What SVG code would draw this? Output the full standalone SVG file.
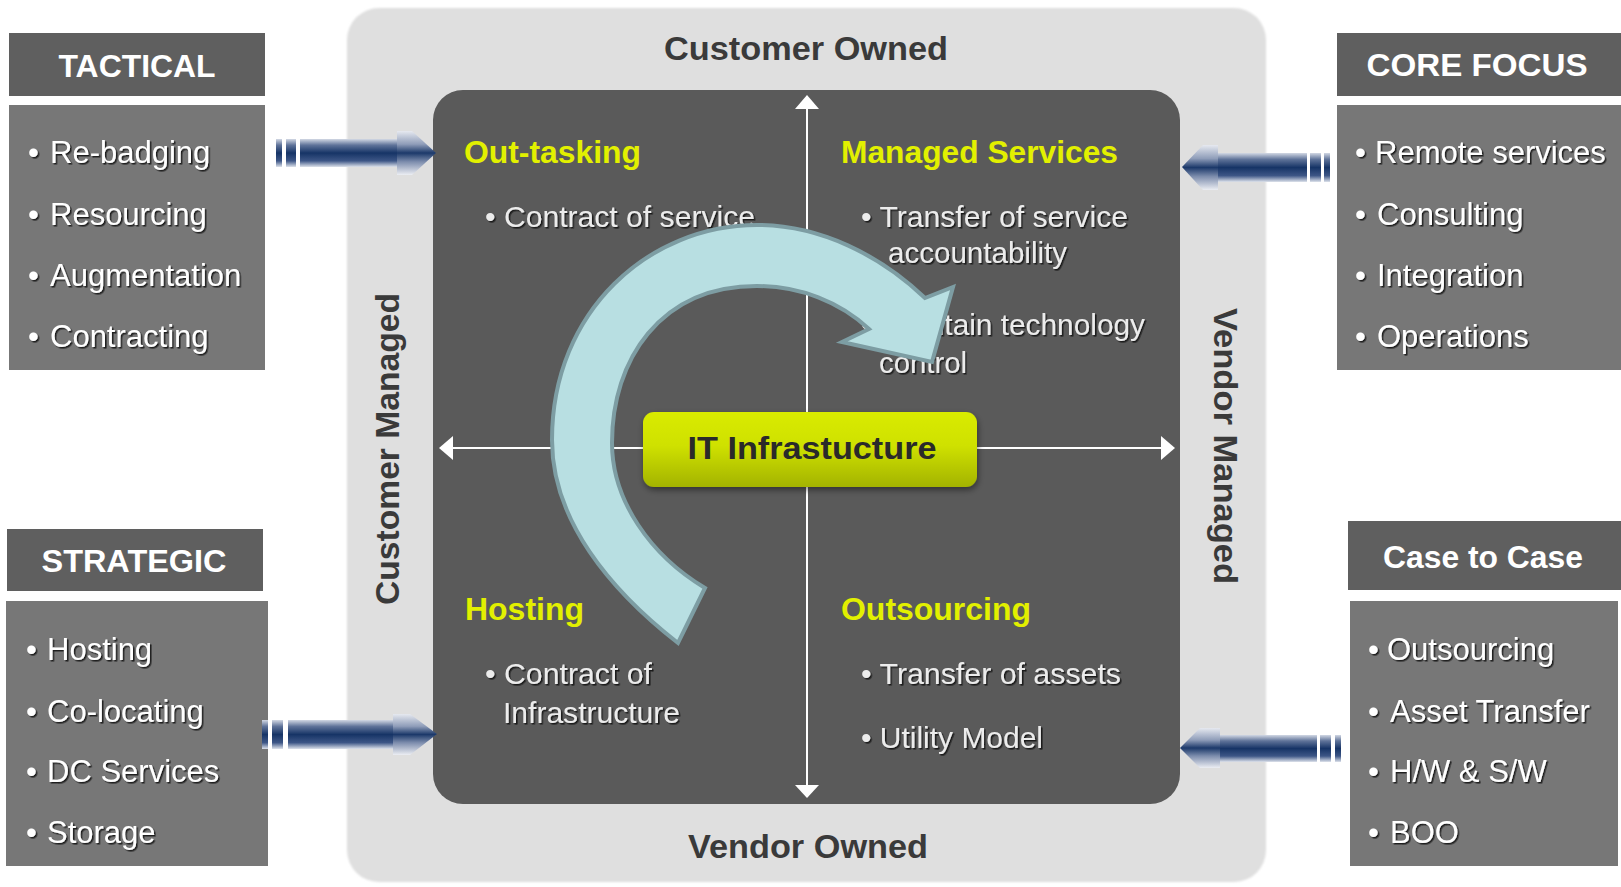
<svg xmlns="http://www.w3.org/2000/svg" width="1621" height="887" viewBox="0 0 1621 887">
<defs>
<linearGradient id="navy" x1="0" y1="0" x2="0" y2="1">
<stop offset="0" stop-color="#d2d8e4"/>
<stop offset="0.22" stop-color="#5f7399"/>
<stop offset="0.5" stop-color="#163466"/>
<stop offset="0.78" stop-color="#3d5686"/>
<stop offset="1" stop-color="#dde2eb"/>
</linearGradient>
<linearGradient id="navyHead" x1="0" y1="0" x2="0" y2="1">
<stop offset="0" stop-color="#e6e9f0"/>
<stop offset="0.3" stop-color="#8f9db9"/>
<stop offset="0.5" stop-color="#1c396a"/>
<stop offset="0.7" stop-color="#7d8dad"/>
<stop offset="1" stop-color="#eceef3"/>
</linearGradient>
<linearGradient id="itGrad" x1="0" y1="0" x2="0" y2="1">
<stop offset="0" stop-color="#d9eb00"/>
<stop offset="0.45" stop-color="#cfe100"/>
<stop offset="1" stop-color="#a3b300"/>
</linearGradient>
<filter id="ts" x="-5%" y="-30%" width="110%" height="160%">
<feDropShadow dx="1.5" dy="1.5" stdDeviation="0.7" flood-color="#111" flood-opacity="0.85"/>
</filter>
<filter id="bs" x="-10%" y="-20%" width="120%" height="150%">
<feDropShadow dx="1" dy="3" stdDeviation="3" flood-color="#000" flood-opacity="0.45"/>
</filter>
<filter id="soft" x="-2%" y="-2%" width="104%" height="104%">
<feGaussianBlur stdDeviation="1.2"/>
</filter>
<style>
.hdr{fill:#5f5f5f}
.bdy{fill:#777777}
.ht{font-family:"Liberation Sans",Arial,sans-serif;font-weight:bold;font-size:32px;fill:#ffffff;text-anchor:middle}
.bt{font-family:"Liberation Sans",Arial,sans-serif;font-size:31px;fill:#ffffff;filter:url(#ts)}
.ql{font-family:"Liberation Sans",Arial,sans-serif;font-weight:bold;font-size:32px;fill:#e2f000}
.qt{font-family:"Liberation Sans",Arial,sans-serif;font-size:30px;fill:#ececec;filter:url(#ts)}
.ft{font-family:"Liberation Sans",Arial,sans-serif;font-weight:bold;font-size:34px;fill:#3a3a3a;text-anchor:middle}
.axis{stroke:#ffffff;stroke-width:2;fill:none}
.ah{fill:#ffffff}
.nv{fill:url(#navy)}
.nh{fill:url(#navyHead)}
</style>
</defs>

<g id="frame">
<rect x="347" y="8" width="919" height="874" rx="32" fill="#dfdfdf" filter="url(#soft)"/>
<text class="ft" x="806" y="60" textLength="284" lengthAdjust="spacingAndGlyphs">Customer Owned</text>
<text class="ft" x="808" y="858" textLength="240" lengthAdjust="spacingAndGlyphs">Vendor Owned</text>
<text class="ft" transform="translate(399,449) rotate(-90)" textLength="312" lengthAdjust="spacingAndGlyphs">Customer Managed</text>
<text class="ft" transform="translate(1214,446) rotate(90)" textLength="276" lengthAdjust="spacingAndGlyphs">Vendor Managed</text>
</g>

<g id="quadrant-panel">
<rect x="433" y="90" width="747" height="714" rx="30" fill="#5a5a5a"/>
</g>

<g id="connectors">
<line class="axis" x1="807" y1="106" x2="807" y2="787"/>
<polygon class="ah" points="807,95 795,109 819,109"/>
<polygon class="ah" points="807,798 795,785 819,785"/>
<line class="axis" x1="450" y1="448" x2="1164" y2="448"/>
<polygon class="ah" points="439,448 453,436 453,460"/>
<polygon class="ah" points="1175,448 1161,436 1161,460"/>
</g>

<g id="it-infrastructure">
<rect x="643" y="412" width="334" height="75" rx="11" fill="url(#itGrad)" filter="url(#bs)"/>
<text x="812" y="459" font-family="Liberation Sans, Arial, sans-serif" font-weight="bold" font-size="32" fill="#2a2a2a" text-anchor="middle" textLength="249" lengthAdjust="spacingAndGlyphs">IT Infrastucture</text>
</g>

<g id="out-tasking">
<text class="ql" x="464" y="163" textLength="177" lengthAdjust="spacingAndGlyphs">Out-tasking</text>
<text class="qt" x="485" y="227" textLength="270" lengthAdjust="spacingAndGlyphs">• Contract of service</text>
</g>

<g id="managed-services">
<text class="ql" x="841" y="163" textLength="277" lengthAdjust="spacingAndGlyphs">Managed Services</text>
<text class="qt" x="861" y="227" textLength="267" lengthAdjust="spacingAndGlyphs">• Transfer of service</text>
<text class="qt" x="888" y="263" textLength="179" lengthAdjust="spacingAndGlyphs">accountability</text>
<text class="qt" x="861" y="335" textLength="284" lengthAdjust="spacingAndGlyphs">• Maintain technology</text>
<text class="qt" x="879" y="373" textLength="88" lengthAdjust="spacingAndGlyphs">control</text>
</g>

<g id="hosting">
<text class="ql" x="465" y="620" textLength="119" lengthAdjust="spacingAndGlyphs">Hosting</text>
<text class="qt" x="485" y="684" textLength="167" lengthAdjust="spacingAndGlyphs">• Contract of</text>
<text class="qt" x="503" y="723" textLength="177" lengthAdjust="spacingAndGlyphs">Infrastructure</text>
</g>

<g id="outsourcing">
<text class="ql" x="841" y="620" textLength="190" lengthAdjust="spacingAndGlyphs">Outsourcing</text>
<text class="qt" x="861" y="684" textLength="260" lengthAdjust="spacingAndGlyphs">• Transfer of assets</text>
<text class="qt" x="861" y="748" textLength="182" lengthAdjust="spacingAndGlyphs">• Utility Model</text>
</g>

<g id="cycle-arrow">
<path d="M 678,643 C 610,590 552,520 552,440 C 552,310 650,225 757,225 C 820,225 880,255 925,298 L 953,287 L 932,362 L 842,342 L 869,329 C 840,302 800,286 757,286 C 660,286 612,360 612,443 C 612,500 650,555 705,588 Z" fill="#b8dfe2" stroke="#7d9da3" stroke-width="4" stroke-linejoin="miter"/>
</g>

<g id="tactical">
<rect class="hdr" x="9" y="33" width="256" height="63"/>
<text class="ht" x="137" y="77" textLength="157" lengthAdjust="spacingAndGlyphs">TACTICAL</text>
<rect class="bdy" x="9" y="105" width="256" height="265"/>
<text class="bt" x="28" y="163">• <tspan x="50">Re-badging</tspan></text>
<text class="bt" x="28" y="225">• <tspan x="50">Resourcing</tspan></text>
<text class="bt" x="28" y="286">• <tspan x="50">Augmentation</tspan></text>
<text class="bt" x="28" y="347">• <tspan x="50">Contracting</tspan></text>
</g>

<g id="core-focus">
<rect class="hdr" x="1337" y="33" width="284" height="63"/>
<text class="ht" x="1477" y="76" textLength="221" lengthAdjust="spacingAndGlyphs">CORE FOCUS</text>
<rect class="bdy" x="1337" y="105" width="284" height="265"/>
<text class="bt" x="1355" y="163">• <tspan x="1375">Remote services</tspan></text>
<text class="bt" x="1355" y="225">• <tspan x="1377">Consulting</tspan></text>
<text class="bt" x="1355" y="286">• <tspan x="1377">Integration</tspan></text>
<text class="bt" x="1355" y="347">• <tspan x="1377">Operations</tspan></text>
</g>

<g id="strategic">
<rect class="hdr" x="7" y="529" width="256" height="62"/>
<text class="ht" x="134" y="572" textLength="185" lengthAdjust="spacingAndGlyphs">STRATEGIC</text>
<rect class="bdy" x="6" y="601" width="262" height="265"/>
<text class="bt" x="26" y="660">• <tspan x="47">Hosting</tspan></text>
<text class="bt" x="26" y="722">• <tspan x="47">Co-locating</tspan></text>
<text class="bt" x="26" y="782">• <tspan x="47">DC Services</tspan></text>
<text class="bt" x="26" y="843">• <tspan x="47">Storage</tspan></text>
</g>

<g id="case-to-case">
<rect class="hdr" x="1348" y="521" width="273" height="69"/>
<text class="ht" x="1483" y="568" textLength="200" lengthAdjust="spacingAndGlyphs">Case to Case</text>
<rect class="bdy" x="1350" y="601" width="268" height="265"/>
<text class="bt" x="1368" y="660">• <tspan x="1387">Outsourcing</tspan></text>
<text class="bt" x="1368" y="722">• <tspan x="1390">Asset Transfer</tspan></text>
<text class="bt" x="1368" y="782">• <tspan x="1390">H/W &amp; S/W</tspan></text>
<text class="bt" x="1368" y="843">• <tspan x="1390">BOO</tspan></text>
</g>

<g id="side-arrows">
<g id="arrow-tactical">
<rect class="nv" x="276" y="139" width="6" height="28"/>
<rect class="nv" x="286" y="139" width="10" height="28"/>
<rect class="nv" x="300" y="139" width="98" height="28"/>
<polygon class="nh" points="397,131 412,131 436,153 412,175 397,175"/>
</g>
<g id="arrow-strategic">
<rect class="nv" x="262" y="720" width="6" height="29"/>
<rect class="nv" x="272" y="720" width="11" height="29"/>
<rect class="nv" x="288" y="720" width="106" height="29"/>
<polygon class="nh" points="393,714 410,714 437,734 410,755 393,755"/>
</g>
<g id="arrow-core">
<rect class="nv" x="1324" y="153" width="6" height="29"/>
<rect class="nv" x="1310" y="153" width="11" height="29"/>
<rect class="nv" x="1217" y="153" width="90" height="29"/>
<polygon class="nh" points="1182,167 1203,145 1218,145 1218,190 1203,190"/>
</g>
<g id="arrow-case">
<rect class="nv" x="1335" y="735" width="6" height="27"/>
<rect class="nv" x="1320" y="735" width="11" height="27"/>
<rect class="nv" x="1219" y="735" width="98" height="27"/>
<polygon class="nh" points="1180,748 1200,728 1220,728 1220,768 1200,768"/>
</g>
</g>
</svg>
